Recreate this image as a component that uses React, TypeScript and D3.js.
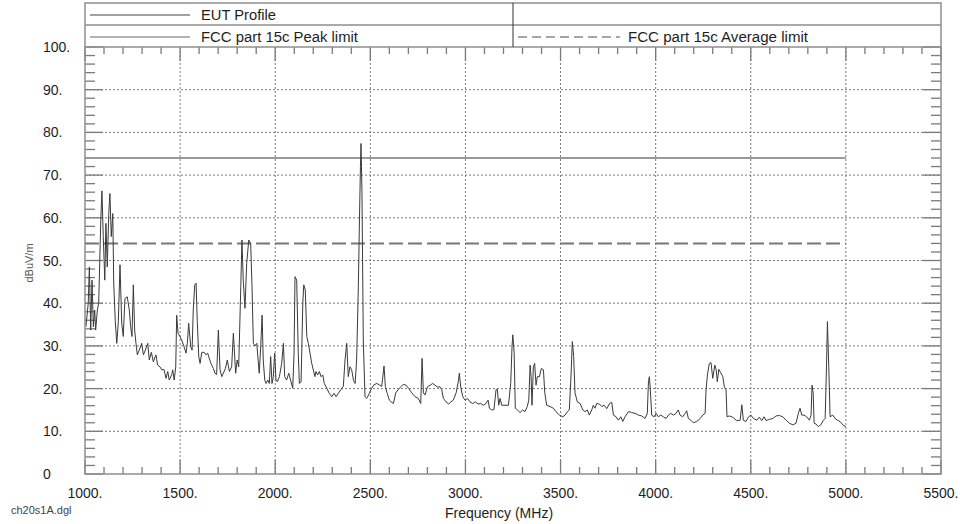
import React from "react";
import * as d3 from "d3";

// EUT profile trace: [frequency MHz, level dBuV/m]
const eutProfile: [number, number][] = [
  [1005,34.5],[1017,40],[1023,48.5],[1030,33.7],[1037,45.4],[1044,34.5],[1051,38.4],[1056,33.7],[1065,38.4],[1072,40],
  [1083,59.5],[1089,66.3],[1096,55.6],[1104,45.4],[1110,58.7],[1117,48.5],[1125,61],[1131,65.7],[1138,55.6],[1146,61],
  [1151,44.7],[1159,36],[1167,30.6],[1175,35.4],[1184,49],[1193,35.4],[1201,32.2],[1210,41.1],[1222,41.5],[1233,38.4],
  [1240,34.5],[1247,32.2],[1254,44.3],[1261,33.7],[1268,30.6],[1275,27.9],[1285,29.0],[1298,30.6],[1307,27.9],[1317,29],
  [1330,30.6],[1338,26.7],[1349,28.5],[1359,26.3],[1373,27.9],[1382,25.5],[1394,25.1],[1403,24.4],[1415,24.5],[1426,22.4],
  [1435,24.0],[1443,22.0],[1456,23.3],[1461,24.4],[1469,22.0],[1477,25.1],[1482,37.2],[1489,33],[1499,32.2],[1508,31.4],
  [1521,29.8],[1531,28.3],[1538,30.6],[1545,35.3],[1556,29.8],[1563,29.0],[1569,38.4],[1577,44.3],[1584,44.7],[1590,36],
  [1598,27.5],[1605,25.9],[1614,28.5],[1626,28.5],[1636,27.9],[1645,28.3],[1654,27],[1662,25.9],[1675,24.7],[1683,23.6],
  [1692,23.3],[1701,33.7],[1710,24.4],[1719,22.8],[1727,23.6],[1738,24.7],[1748,26.7],[1759,24],[1771,25.1],[1780,33],
  [1792,23.6],[1800,26.7],[1808,25.1],[1819,43.9],[1825,54.8],[1832,45.4],[1841,38.8],[1850,49.3],[1861,54.8],[1871,54],
  [1878,43.9],[1885,30.6],[1894,30],[1903,30.6],[1910,26.7],[1916,23.6],[1924,30],[1931,37.2],[1937,26.7],[1945,22],
  [1952,21.2],[1961,22],[1969,21.2],[1976,27.5],[1983,21.2],[1990,22.8],[1997,28.3],[2004,22],[2011,21.6],[2022,22.8],
  [2034,25.9],[2043,30.6],[2050,22.8],[2060,22],[2071,23.6],[2081,22],[2092,20.1],[2099,28.3],[2104,46.2],[2113,45.4],
  [2121,28.3],[2127,21.2],[2136,21.6],[2145,40],[2150,44.3],[2158,43.1],[2166,32.2],[2174,30.6],[2183,28.3],[2192,25.9],
  [2200,24.4],[2209,22.8],[2214,24],[2223,23.2],[2232,24],[2241,22.8],[2250,23.2],[2258,21.2],[2271,20.1],[2284,18.9],
  [2297,18.1],[2309,18.9],[2320,18.1],[2332,18.9],[2344,19.7],[2358,20.5],[2367,26.7],[2376,30.6],[2384,22.8],[2393,25.1],
  [2402,24.4],[2411,22],[2420,21.2],[2428,26.7],[2437,43.9],[2443,60],[2448,72],[2451,77.4],[2456,66],[2463,31.4],
  [2472,18.1],[2481,17.7],[2495,18.9],[2507,20.1],[2519,20.9],[2534,21.2],[2547,20.9],[2560,20.5],[2572,25.3],[2579,20.5],
  [2589,18.9],[2600,17.3],[2609,16.9],[2621,16.5],[2634,19.0],[2647,19.8],[2660,20.4],[2673,21.0],[2688,20.8],[2702,20.0],
  [2718,19.0],[2735,18.1],[2752,17.7],[2765,16.5],[2772,27.1],[2779,19.0],[2788,18.5],[2800,20.4],[2814,20.8],[2828,21.2],
  [2840,20.8],[2852,20.4],[2866,20.4],[2875,19.8],[2884,17.7],[2898,16.9],[2912,16.4],[2924,16.9],[2936,17.3],[2951,19.0],
  [2963,21.8],[2968,23.6],[2975,20.4],[2986,18.1],[2998,17.3],[3010,17.7],[3024,16.9],[3038,16.5],[3052,16.9],[3066,16.4],
  [3080,16.5],[3094,16.1],[3108,16.5],[3119,17.3],[3126,15.4],[3138,15.0],[3150,15.1],[3161,19.8],[3168,19.8],[3175,16.1],
  [3182,17.7],[3191,16.1],[3208,16.1],[3226,16.1],[3238,21.2],[3245,30.0],[3249,32.6],[3256,28.5],[3262,15.4],[3273,15.0],
  [3287,14.4],[3301,15.0],[3313,14.6],[3325,15.8],[3333,17.3],[3340,25.5],[3345,22.8],[3350,16.1],[3357,25.1],[3364,25.9],
  [3371,20.8],[3378,22.8],[3389,22.8],[3399,24.7],[3410,24.4],[3417,19.0],[3427,16.1],[3445,15.8],[3462,15.4],[3476,14.6],
  [3494,13.8],[3512,13.4],[3524,13.8],[3536,14.6],[3546,15.0],[3554,22],[3562,31.0],[3569,27.5],[3576,19.0],[3588,16.9],
  [3603,16.5],[3617,15.0],[3629,14.6],[3641,15.0],[3651,13.8],[3664,15.0],[3672,16.1],[3681,15.4],[3690,16.5],[3704,16.4],
  [3717,15.8],[3729,16.1],[3743,15.3],[3757,16.5],[3769,16.8],[3778,13.8],[3792,13.4],[3804,12.6],[3817,13.4],[3827,12.3],
  [3839,13.4],[3857,14.6],[3874,14.4],[3892,14.2],[3909,13.8],[3927,13.6],[3944,13.0],[3956,14.2],[3962,21.6],[3967,22.8],
  [3972,19.8],[3979,13.8],[3992,13.4],[4002,14.2],[4014,13.4],[4027,13.8],[4040,13.4],[4055,13.0],[4067,13.8],[4079,14.2],
  [4093,13.8],[4107,14.2],[4119,15.0],[4128,13.8],[4142,13.4],[4155,14.2],[4163,14.8],[4172,13.0],[4185,12.6],[4198,12.0],
  [4216,12.3],[4234,13.0],[4248,13.8],[4260,14.2],[4265,19.7],[4272,23.2],[4282,25.9],[4291,26.1],[4300,22.4],[4311,25.5],
  [4318,24.4],[4324,21.6],[4332,24.5],[4342,23.7],[4353,22.8],[4361,20.4],[4370,19.7],[4375,13.4],[4387,13.6],[4405,13.3],
  [4426,12.5],[4444,12.6],[4453,16.2],[4461,12.6],[4475,12.3],[4487,13.3],[4500,13.8],[4514,13.0],[4532,12.6],[4545,13.3],
  [4558,12.5],[4570,13.4],[4580,12.5],[4598,12.8],[4616,13.0],[4633,13.6],[4650,13.7],[4668,13.4],[4686,12.6],[4703,11.9],
  [4721,11.5],[4738,11.9],[4750,14.2],[4759,15.4],[4768,13.8],[4780,13.8],[4794,13.4],[4808,12.6],[4817,13.8],[4822,20.8],
  [4828,19],[4833,11.9],[4843,11.7],[4855,11.1],[4868,11.5],[4882,12.6],[4891,13.0],[4898,25.1],[4903,35.7],[4910,25.1],
  [4917,13.4],[4931,13.8],[4943,13.0],[4955,12.6],[4969,12.3],[4984,11.5],[4996,11.1],[5000,11.2],
];

const peakLimit = 74;
const avgLimit = 54;
const limitRange = [1000, 5000];

const xTickValues = [1000, 1500, 2000, 2500, 3000, 3500, 4000, 4500, 5000, 5500];
const yTickValues = [0, 10, 20, 30, 40, 50, 60, 70, 80, 90, 100];

const legendLabels = ["EUT Profile", "FCC part 15c Peak limit", "FCC part 15c Average limit"];
const xTitle = "Frequency (MHz)";
const yTitle = "dBuV/m";
const fileLabel = "ch20s1A.dgl";

const FONT = "'Liberation Sans', Arial, sans-serif";

export default function App() {
  const W = 960;
  const H = 524;
  const left = 85, right = 941, top = 47, bottom = 474;
  const legTop = 3, legMid = 25;
  const legSplit = 513;

  const x = d3.scaleLinear().domain([1000, 5500]).range([left, right]);
  const y = d3.scaleLinear().domain([0, 100]).range([bottom, top]);
  const line = d3.line<[number, number]>().x(d => x(d[0])).y(d => y(d[1]));

  const minorX = d3.range(1000, 5501, 100);
  const minorY = d3.range(0, 101, 2);

  const frame = "#8e8e8e";
  const tickCol = "#7a7a7a";
  const gridCol = "#7a7a7a";
  const textCol = "#1e1e1e";

  return (
    <svg width={W} height={H} style={{ position: "absolute", left: 0, top: 0, display: "block", background: "#fff" }}>
      <rect x={0} y={0} width={W} height={H} fill="#fff" />
      {/* grid */}
      {yTickValues.filter(v => v > 0 && v < 100).map(v => (
        <line key={"gy" + v} x1={left} x2={right} y1={y(v)} y2={y(v)} stroke={gridCol} strokeWidth={1} strokeDasharray="2,2" />
      ))}
      {xTickValues.filter(v => v > 1000 && v < 5500).map(v => (
        <line key={"gx" + v} x1={x(v)} x2={x(v)} y1={top} y2={bottom} stroke={gridCol} strokeWidth={1} strokeDasharray="2,2" />
      ))}
      {/* ticks */}
      {minorX.map(v => {
        const major = v % 500 === 0;
        const len = major ? 14 : 7;
        return (
          <g key={"tx" + v}>
            <line x1={x(v)} x2={x(v)} y1={bottom} y2={bottom - len} stroke={tickCol} strokeWidth={1.3} />
            <line x1={x(v)} x2={x(v)} y1={top} y2={top + len} stroke={tickCol} strokeWidth={1.3} />
          </g>
        );
      })}
      {minorY.map(v => {
        const major = v % 10 === 0;
        const len = major ? 18 : 10;
        return (
          <g key={"ty" + v}>
            <line x1={left} x2={left + len} y1={y(v)} y2={y(v)} stroke={tickCol} strokeWidth={1.3} />
            <line x1={right} x2={right - len} y1={y(v)} y2={y(v)} stroke={tickCol} strokeWidth={1.3} />
          </g>
        );
      })}
      {/* limits */}
      <line x1={x(limitRange[0])} x2={x(limitRange[1])} y1={y(peakLimit)} y2={y(peakLimit)} stroke="#9a9a9a" strokeWidth={2} />
      <line x1={x(limitRange[0])} x2={x(limitRange[1])} y1={y(avgLimit)} y2={y(avgLimit)} stroke="#777" strokeWidth={2} strokeDasharray="14,5" />
      {/* trace */}
      <path d={line(eutProfile) || ""} fill="none" stroke="#3a3a3a" strokeWidth={1} strokeLinejoin="round" />
      {/* frame */}
      <rect x={left} y={legTop} width={right - left} height={bottom - legTop} fill="none" stroke={frame} strokeWidth={1.5} />
      <line x1={left} x2={right} y1={legMid} y2={legMid} stroke={frame} strokeWidth={1.5} />
      <line x1={left} x2={right} y1={top} y2={top} stroke={frame} strokeWidth={1.5} />
      <line x1={legSplit} x2={legSplit} y1={legTop} y2={top} stroke="#333" strokeWidth={1} />
      {/* legend */}
      <line x1={90} x2={190} y1={15} y2={15} stroke="#444" strokeWidth={1.2} />
      <text x={201} y={20} fontFamily={FONT} fontSize={14} fill={textCol} textLength={75} lengthAdjust="spacingAndGlyphs">{legendLabels[0]}</text>
      <line x1={90} x2={190} y1={37} y2={37} stroke="#9a9a9a" strokeWidth={1.5} />
      <text x={201} y={42} fontFamily={FONT} fontSize={14} fill={textCol} textLength={157} lengthAdjust="spacingAndGlyphs">{legendLabels[1]}</text>
      <line x1={518} x2={620} y1={37} y2={37} stroke="#888" strokeWidth={1.3} strokeDasharray="9,5" />
      <text x={628} y={42} fontFamily={FONT} fontSize={14} fill={textCol} textLength={180} lengthAdjust="spacingAndGlyphs">{legendLabels[2]}</text>
      {/* axis labels */}
      {xTickValues.map(v => (
        <text key={"xl" + v} x={x(v)} y={498} textAnchor="middle" fontFamily={FONT} fontSize={14} fill={textCol}>{`${v}.`}</text>
      ))}
      {yTickValues.map(v => (
        <text key={"yl" + v} x={43} y={y(v)} dy="0.36em" textAnchor="start" fontFamily={FONT} fontSize={14} fill={textCol}>{v === 0 ? "0" : `${v}.`}</text>
      ))}
      <text x={499} y={518} textAnchor="middle" fontFamily={FONT} fontSize={14} fill={textCol}>{xTitle}</text>
      <text x={11} y={514} fontFamily={FONT} fontSize={11} fill="#444">{fileLabel}</text>
      <text transform={`translate(33,263) rotate(-90)`} textAnchor="middle" fontFamily={FONT} fontSize={11} fill="#555">{yTitle}</text>
    </svg>
  );
}
